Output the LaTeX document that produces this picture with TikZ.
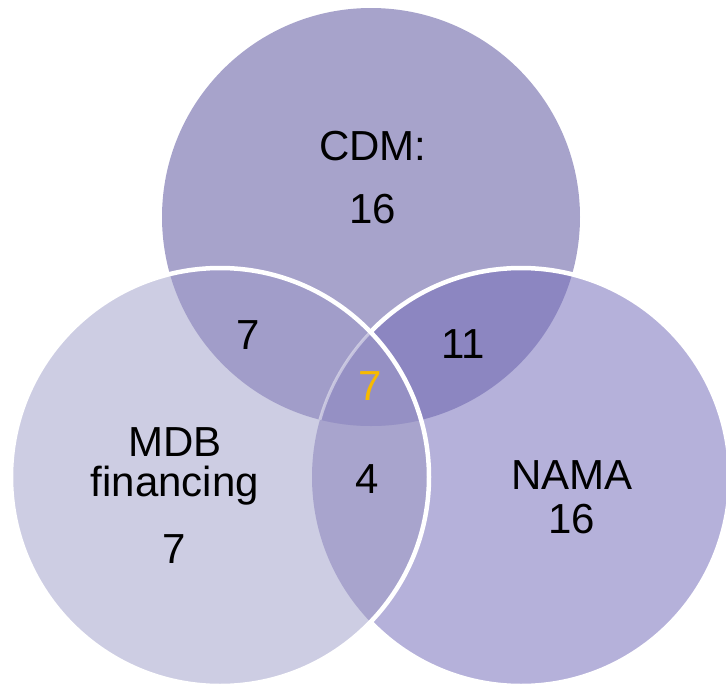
\documentclass[tikz,border=0pt]{standalone}
\usepackage{fontspec}
\setmainfont{Liberation Sans}
\usepackage{tikz}
\definecolor{cdmfill}{RGB}{167,163,203}
\definecolor{mdbfill}{RGB}{205,205,227}
\definecolor{namafill}{RGB}{181,177,218}
\definecolor{cdmmdb}{RGB}{161,157,201}
\definecolor{cdmnama}{RGB}{140,134,193}
\definecolor{mdbnama}{RGB}{168,164,205}
\definecolor{allthree}{RGB}{149,144,196}
\definecolor{gold}{RGB}{247,186,0}
\tikzset{every node/.style={font=\fontsize{42}{50}\selectfont,inner sep=0pt,anchor=base},
  rim/.style={draw=white,line width=4.5pt}}
\newcommand{\ring}[1]{(#1) circle (209pt)}

\begin{document}
\begin{tikzpicture}[x=1pt,y=-1pt]
\useasboundingbox (0,0) rectangle (726,688);
\coordinate (cdm) at (371,217);
\coordinate (mdb) at (220,477);
\coordinate (nama) at (521,477);
% CDM and NAMA discs
\fill[cdmfill] \ring{cdm};
\fill[namafill] \ring{nama};
\begin{scope}
  \clip \ring{cdm};
  \fill[cdmnama] \ring{nama};
\end{scope}
\draw[rim] \ring{nama};
% MDB disc on top
\fill[mdbfill] \ring{mdb};
\begin{scope}
  \clip \ring{mdb};
  \fill[mdbnama] \ring{nama};
\end{scope}
\begin{scope}
  \clip \ring{cdm};
  \fill[cdmmdb] \ring{mdb};
  \clip \ring{mdb};
  \fill[allthree] \ring{nama};
  \draw[white,opacity=0.45,line width=3pt] \ring{nama};
\end{scope}
\draw[rim] \ring{mdb};
% counts
\node (cdmlabel) at (373,160) {CDM:};
\node (cdmcount) at (373,223) {16};
\node (cmcount) at (248,349) {7};
\node (cncount) at (463,358) {11};
\node[text=gold] (allcount) at (370,400) {7};
\node (mncount) at (367,493) {4};
\node (mdblabel) at (175,456) {MDB};
\node (mdbword) at (175,496) {financing};
\node (mdbcount) at (174,563) {7};
\node (namalabel) at (572,489) {NAMA};
\node (namacount) at (572,533) {16};
\end{tikzpicture}
\end{document}
